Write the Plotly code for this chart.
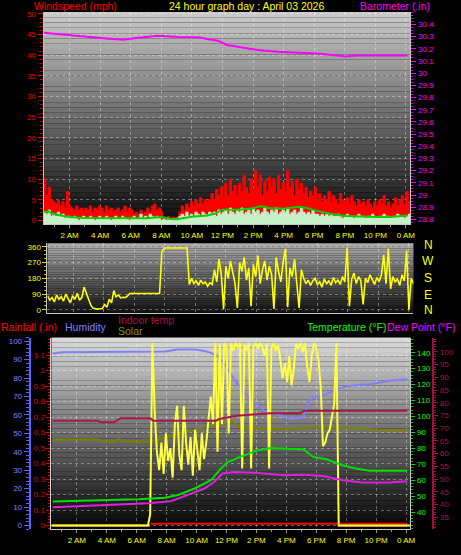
import plotly.graph_objects as go

W, H = 461, 555
def fx(p): return p / W
def fy(p): return 1 - p / H

FONT = "Liberation Sans, Arial, sans-serif"

# ---------------- data ----------------
XTICK_VALS = [2, 4, 6, 8, 10, 12, 14, 16, 18, 20, 22, 24]
XTICK_TEXT = ["2 AM", "4 AM", "6 AM", "8 AM", "10 AM", "12 PM", "2 PM", "4 PM",
              "6 PM", "8 PM", "10 PM", "0 AM"]

# sample times (hours after midnight) for the dense series
HOURS = [round(0.3 + 0.15 * i, 2) for i in range(161)]

GUST = [10, 6, 8, 5, 4.5,
        4, 5, 3.5, 4.5, 3, 7, 3.5,
        3, 2.5, 3.5, 2.5, 3, 2, 3,
        2.5, 3.5, 2, 3, 2.5, 3.5,
        3, 2, 3.5, 2.5, 3, 2, 2.5,
        3, 2, 2.5, 3.5, 2, 3, 2.5,
        1.5, 2, 1.5, 2.5, 1.5, 2,
        3, 2, 3.5, 4, 2.5, 3, 2,
        0.8, 0.5, 1, 0.5, 0.8, 0.5, 0.8,
        2, 3.5, 2.5, 4, 3, 4.5,
        3.5, 5, 4, 5.5, 4, 5, 4.5,
        5, 6.5, 5, 7.5, 6, 8, 5.5,
        9, 6, 10, 7, 8.5, 6,
        9, 7, 11, 8, 6.5, 10, 7,
        12, 8, 11, 6, 9.5, 7, 10.5,
        8, 10, 6.5, 11, 7.5, 9,
        7, 12, 8, 9.5, 6, 10, 7.5,
        9, 6.5, 8, 5.5, 7, 6, 8,
        5, 6.5, 4.5, 6, 5, 7,
        4.5, 6, 5, 4, 6.5, 5, 4.5,
        5.5, 4, 6, 4.5, 3.5, 5, 4,
        4.5, 3.5, 5, 4, 3, 4.5,
        3.5, 5, 4, 6, 3.5, 4.5, 3,
        4, 5.5, 3.5, 5, 6, 4, 7,
        4.5, 5]

WIND = [2, 1.5, 2.5, 1, 1.5, 1, 2, 1, 1.5, 0.5, 1, 1,
        0.5, 1, 0.5, 0, 0.5, 1, 0.5, 0.5, 1, 0.5,
        0, 0.5, 1, 0.5, 0.5, 1, 0.5, 0, 0.5, 1,
        0.5, 0.5, 1, 0.5, 0.5, 0, 0.5, 1, 0.5, 0.5,
        1.5, 0.5, 1, 0.5, 1.5, 1, 0.5, 1, 0.5, 0,
        0.3, 0, 0.5, 0.3, 0, 0.3, 0.5,
        1, 1.5, 1, 2, 1, 1.5, 1, 2, 1.5, 1,
        2, 1.5, 1, 2, 1.5, 2, 1, 2.5, 1.5, 2,
        2.5, 1.5, 3, 2, 1.5, 2.5, 2, 3, 1.5, 2,
        2.5, 1.5, 3, 2, 2.5, 1.5, 2, 3, 2, 1.5,
        2.5, 2, 3, 1.5, 2, 2.5, 2, 3, 1.5, 2,
        2.5, 1.5, 2, 3, 2, 1.5, 2, 1.5, 2.5, 1.5,
        1.5, 1, 1.5, 1, 1.5, 1, 1.5, 1, 1, 1.5,
        1, 0.5, 1, 1.5, 1, 1, 0.5, 1, 1.5, 1,
        1, 0.5, 1, 1, 1.5, 1, 0.5, 1, 1, 1.5,
        1, 1, 0.5, 1, 1, 1.5, 1, 1, 0.5, 1,
        1.5, 1]

AVG_H = [0.3, 0.6, 1.0, 1.5, 2.0, 3.0, 4.0, 5.0, 6.0, 7.0, 8.0, 8.5, 9.0, 9.5,
         10.0, 11.0, 11.5, 12.0, 13.0, 14.0, 14.5, 15.0, 16.0, 17.0, 17.5, 18.0,
         19.0, 20.0, 21.0, 22.0, 23.0, 24.0, 24.1]
AVG = [2.0, 2.2, 1.5, 1.2, 0.8, 0.6, 0.6, 0.5, 0.6, 0.5, 0.8, 0.4, 0.3, 0.6,
       0.9, 1.2, 1.6, 2.6, 2.6, 2.9, 3.5, 3.0, 2.8, 3.3, 3.0, 2.5,
       1.6, 1.1, 0.9, 0.8, 0.8, 1.0, 1.2]

BARO_H = [0.3, 1.0, 2.6, 4.6, 5.5, 6.5, 7.2, 7.8, 9.1, 10.4, 11.0, 11.7, 12.3,
          13.3, 14.3, 15.6, 16.9, 18.2, 19.5, 20.1, 20.7, 22.0, 23.3, 24.1]
BARO = [30.332, 30.322, 30.305, 30.283, 30.275, 30.291, 30.300, 30.308, 30.297,
        30.295, 30.281, 30.267, 30.232, 30.214, 30.191, 30.177, 30.169, 30.161,
        30.145, 30.137, 30.145, 30.145, 30.141, 30.145]

WIND_DIR = [80, 55, 70, 45, 85, 60, 75, 50, 90, 65, 40, 80, 60, 95, 55, 70,
            130, 95, 55, 25, 8, 5, 4, 6, 8,
            30, 15, 60, 40, 110, 75, 85, 68, 72, 70, 80,
            93, 93, 93, 93, 93, 93, 93, 93, 93, 93, 93, 93, 93, 93,
            330, 354, 354, 354, 354, 354, 354, 354, 354, 354, 354, 354,
            145,
            180, 150, 165, 140, 170, 150, 160, 135, 155, 145,
            230, 160, 290, 200, 5, 250, 180, 280, 210, 150,
            10, 270, 220, 300, 170, 240, 20, 260, 190, 310,
            150, 230, 280, 170, 250, 200, 5, 300, 220, 160,
            270, 350, 15, 240, 190, 290, 150, 10, 230, 180,
            150, 170, 140, 165, 180, 145, 160, 130, 175, 150,
            165, 140, 185, 155, 170, 145, 190, 160, 356, 20,
            175, 210, 150, 190, 165, 30, 180, 155, 200, 170,
            145, 185, 160, 200, 315, 150, 350, 120, 190, 160,
            175, 140, 200, 165, 340, 0, 180, 150]

SOLAR = ([0] * 44 +
         [6, 99, 62,
          40, 30, 45, 28, 50, 35, 42, 26, 55, 65, 38, 30, 65, 45, 33, 48, 27, 52,
          40, 30, 50, 36, 45,
          60, 70, 55, 99, 40, 99, 55, 99, 97, 50, 99, 95, 99, 97, 99, 31, 98, 95,
          99, 31, 97, 99, 96, 99, 97, 92, 99, 31, 96, 99, 95, 98, 90, 80, 88, 78,
          92, 76, 85, 99, 96, 99, 94, 99, 86, 78, 92, 99, 96, 90, 75, 43, 45, 50,
          52, 60, 66, 99] +
         [0] * 33)

HUM_H = [0.39, 1.0, 7.88, 8.76, 9.87, 10.53, 10.97, 11.41, 11.85, 12.51, 13.17,
         13.83, 14.5, 15.37, 16.25, 17.14, 17.36, 17.8, 18.46, 19.34, 20.22,
         21.54, 22.87, 23.75, 24.08]
HUM = [93.4, 94.0, 94.4, 95.5, 95.5, 94.7, 93.7, 92.0, 88.0, 79.4, 72.3, 67.0,
       62.3, 60.5, 57.8, 58.7, 65.0, 69.6, 70.4, 74.0, 75.8, 76.7, 78.5, 79.4,
       79.4]

TEMP_H = [0.39, 3.91, 6.12, 7.88, 8.76, 9.87, 10.97, 11.52, 12.07, 13.17, 14.05,
          14.93, 15.82, 17.14, 17.8, 18.68, 19.78, 20.66, 21.54, 24.08]
TEMP = [46.7, 47.3, 48.1, 49.1, 50.8, 54.9, 60.1, 66.3, 71.5, 75.7, 78.8, 80.3,
        79.8, 79.4, 74.7, 73.2, 69.4, 67.4, 66.1, 66.1]

DEW_H = [0.39, 3.91, 6.78, 8.32, 9.42, 10.53, 11.19, 11.74, 12.51, 14.05, 15.82,
         17.14, 18.46, 19.78, 21.1, 22.87, 24.08]
DEW = [43.1, 44.5, 45.6, 47.0, 50.8, 54.9, 59.1, 64.3, 65.3, 64.7, 63.2, 63.6,
       62.8, 60.1, 58.7, 58.7, 59.5]

INDOOR_H = [0.39, 3.4, 3.6, 4.5, 4.9, 6.9, 7.1, 11.3, 11.5, 12.7, 14.9, 16.9,
            17.2, 24.08]
INDOOR = [72.9, 72.9, 72.3, 72.3, 73.9, 73.9, 72.9, 72.9, 73.6, 74.9, 75.9, 75.9,
          76.8, 76.8]

OLIVE_H = [0.39, 3.4, 3.6, 4.5, 4.8, 5.0, 6.9, 8.5, 10.0, 11.2, 12.0, 12.3, 12.6,
           13.0, 16.0, 18.0, 21.0, 22.5, 24.08]
OLIVE = [46.7, 46.7, 45.6, 45.6, 47.0, 45.6, 45.6, 49.0, 52.0, 55.1, 55.1, 56.9,
         55.0, 52.8, 52.3, 53.2, 52.8, 51.5, 51.5]

RAIN_H = [6.95, 24.08]
RAIN = [0.012, 0.012]
RATE_H = [0.3, 6.9, None, 19.45, 24.08]
RATE = [0, 0, None, 0, 0]

WIND_TICKS = list(range(0, 55, 5))
BARO_TICKS = [28.8, 28.9, 29.0, 29.1, 29.2, 29.3, 29.4, 29.5, 29.6, 29.7, 29.8,
              29.9, 30.0, 30.1, 30.2, 30.3, 30.4]
BARO_TEXT = ["28.8", "28.9", "29", "29.1", "29.2", "29.3", "29.4", "29.5", "29.6",
             "29.7", "29.8", "29.9", "30", "30.1", "30.2", "30.3", "30.4"]
RAIN_TICKS = [0, 0.1, 0.2, 0.3, 0.4, 0.5, 0.6, 0.7, 0.8, 0.9, 1.0, 1.1]
RAIN_TEXT = ["0", "0.1", "0.2", "0.3", "0.4", "0.5", "0.6", "0.7", "0.8", "0.9",
             "1", "1.1"]
TEMP_TICKS = [40, 50, 60, 70, 80, 90, 100, 110, 120, 130, 140]
IN_TICKS = [35, 40, 45, 50, 55, 60, 65, 70, 75, 80, 85, 90, 95, 100]
DIR_LABELS = ["N", "W", "S", "E", "N"]

WIND_RANGE = [-0.96, 50.48]

# ---------------- figure ----------------
fig = go.Figure()

def line(x, y, xa, ya, color, width=2, **kw):
    fig.add_trace(go.Scatter(x=x, y=y, xaxis=xa, yaxis=ya, mode="lines",
                             line=dict(color=color, width=width, shape=kw.pop("shape", "linear")),
                             hoverinfo="skip", connectgaps=False, **kw))

def floor_trace():
    # invisible baseline at the bottom of the wind axis, so the fills reach the frame
    fig.add_trace(go.Scatter(x=[HOURS[0], HOURS[-1]], y=[WIND_RANGE[0]] * 2,
                             xaxis="x", yaxis="y", mode="lines",
                             line=dict(width=0, color="rgba(0,0,0,0)"), hoverinfo="skip"))

# top panel
floor_trace()
line(HOURS, GUST, "x", "y", "#ff0000", 1, shape="hv", fill="tonexty", fillcolor="#ff0000")
floor_trace()
line(HOURS, WIND, "x", "y", "#c8f0c8", 1, shape="hv", fill="tonexty", fillcolor="#c8f0c8")
line(AVG_H, AVG, "x", "y", "#00d000", 2)
line(BARO_H, BARO, "x", "y2", "#ff00ff", 2)

# middle panel
line(HOURS, WIND_DIR, "x2", "y3", "#ffff00", 1.6)

# bottom panel
line(RATE_H, RATE, "x3", "y4", "#ff9900", 2)
line(RAIN_H, RAIN, "x3", "y4", "#ff0000", 2)
line(HUM_H, HUM, "x3", "y5", "#8080ff", 2)
line(OLIVE_H, OLIVE, "x3", "y5", "#808000", 2)
line(INDOOR_H, INDOOR, "x3", "y7", "#a81848", 2)
line(TEMP_H, TEMP, "x3", "y6", "#00e000", 2)
line(DEW_H, DEW, "x3", "y6", "#e020e0", 2)
line(HOURS, SOLAR, "x3", "y5", "#ffff40", 2)

# gradient backgrounds (style)
shapes = []
def gradient(x0, x1, y0, y1, ctop, cbot, n=40):
    for k in range(n):
        t = k / (n - 1)
        c = int(round(ctop + (cbot - ctop) * t))
        ya = y0 + (y1 - y0) * k / n
        yb = y0 + (y1 - y0) * (k + 1) / n
        shapes.append(dict(type="rect", xref="paper", yref="paper",
                           x0=fx(x0), x1=fx(x1), y0=fy(yb), y1=fy(ya),
                           fillcolor=f"rgb({c},{c},{c})", line=dict(width=0),
                           layer="below"))
gradient(44, 415, 10, 224, 200, 12)
gradient(48, 418, 243, 313, 172, 20)
gradient(52, 415, 338, 531, 216, 6)

GRID = "rgba(255,255,255,0.35)"
tf = lambda color: dict(family=FONT, size=8, color=color)

def xaxis(dom, anchor, labels=True):
    return dict(domain=[fx(dom[0]), fx(dom[1])], range=[0.3, 24.3], anchor=anchor,
                tickvals=XTICK_VALS, ticktext=XTICK_TEXT, showticklabels=labels,
                tickfont=tf("#ffff00"), ticks="outside" if labels else "",
                ticklen=3, tickcolor="#909090",
                minor=dict(tick0=0, dtick=1, ticks="outside" if labels else "",
                           ticklen=2, tickcolor="#909090"),
                showgrid=True, gridcolor=GRID, griddash="dot", gridwidth=1,
                showline=True, linecolor="#c8c8c8", linewidth=1, zeroline=False,
                fixedrange=True)

layout = dict(
    width=W, height=H, margin=dict(l=0, r=0, t=0, b=0),
    paper_bgcolor="black", plot_bgcolor="rgba(0,0,0,0)", showlegend=False,
    font=dict(family=FONT),
    xaxis=xaxis((44, 415), "y"),
    xaxis2=xaxis((48, 418), "y3", labels=False),
    xaxis3=xaxis((52, 415), "y4"),
    yaxis=dict(domain=[fy(224), fy(10)], range=WIND_RANGE, anchor="x", side="left",
               tickvals=WIND_TICKS, tickfont=tf("#e00000"), ticks="outside",
               ticklen=5, tickcolor="#e00000",
               minor=dict(dtick=1, ticks="outside", ticklen=3, tickcolor="#c00000"),
               showgrid=True, gridcolor=GRID, griddash="dot", zeroline=False,
               showline=True, linecolor="#c8c8c8", fixedrange=True),
    yaxis2=dict(range=[28.759, 30.503], overlaying="y", anchor="x", side="right",
                tickvals=BARO_TICKS, ticktext=BARO_TEXT, tickfont=tf("#ff00ff"),
                ticks="outside", ticklen=5, tickcolor="#ff00ff",
                minor=dict(dtick=0.025, tick0=28.8, ticks="outside", ticklen=2,
                           tickcolor="#d000d0"),
                showgrid=False, zeroline=False, showline=True, linecolor="#c8c8c8",
                fixedrange=True),
    yaxis3=dict(domain=[fy(313), fy(243)], range=[-17, 381], anchor="x2", side="left",
                tick0=0, dtick=90, tickfont=tf("#ffff00"), ticks="outside", ticklen=4,
                tickcolor="#e0e000",
                minor=dict(dtick=22.5, ticks="outside", ticklen=2, tickcolor="#c0c000"),
                showgrid=True, gridcolor=GRID, griddash="dot", zeroline=False,
                showline=True, linecolor="#c8c8c8", fixedrange=True),
    yaxis4=dict(domain=[fy(531), fy(338)], range=[-0.0237, 1.2135], anchor="x3",
                side="left", tickvals=RAIN_TICKS, ticktext=RAIN_TEXT,
                tickfont=tf("#e00000"), ticks="outside", ticklen=4, tickcolor="#e00000",
                minor=dict(dtick=0.02, ticks="outside", ticklen=2, tickcolor="#e00000"),
                showgrid=True, gridcolor=GRID, griddash="dot", zeroline=False,
                showline=True, linecolor="#d8d8d8", fixedrange=True),
    yaxis5=dict(range=[-2, 102], overlaying="y4", anchor="free", position=fx(30),
                side="left", tick0=0, dtick=10, tickfont=tf("#8080ff"), ticks="outside",
                ticklen=5, tickcolor="#6060ff",
                minor=dict(dtick=2, ticks="outside", ticklen=3, tickcolor="#6060ff"),
                showgrid=False, zeroline=False, showline=True, linecolor="#6060ff",
                linewidth=2, fixedrange=True),
    yaxis6=dict(range=[29.42, 149.5], overlaying="y4", anchor="x3", side="right",
                tickvals=TEMP_TICKS, tickfont=tf("#00ff00"), ticks="outside", ticklen=4,
                tickcolor="#00e000",
                minor=dict(dtick=2, ticks="outside", ticklen=2, tickcolor="#00c000"),
                showgrid=False, zeroline=False, showline=True, linecolor="#c8c8c8",
                fixedrange=True),
    yaxis7=dict(range=[30.33, 105.6], overlaying="y4", anchor="free", position=fx(438),
                side="right", tickvals=IN_TICKS, tickfont=tf("#b01048"), ticks="outside",
                ticklen=4, tickcolor="#a01040",
                minor=dict(dtick=1, ticks="outside", ticklen=2, tickcolor="#a01040"),
                showgrid=False, zeroline=False, showline=True, linecolor="#a01040",
                linewidth=2, fixedrange=True),
    shapes=shapes,
)
fig.update_layout(**layout)

def label(text, x, y, color, anchor="left", size=10.5):
    fig.add_annotation(text=text, xref="paper", yref="paper", x=fx(x), y=fy(y),
                       xanchor=anchor, yanchor="middle", showarrow=False,
                       font=dict(family=FONT, size=size, color=color), borderpad=0)

label("Windspeed (mph)", 33, 4, "#ff0000")
label("24 hour graph day : April 03 2026", 249, 4, "#ffff00", anchor="center")
label("Barometer (.in)", 436, 4, "#ff00ff", anchor="right")
label("Rainfall (.in)", 0, 327.7, "#ff0000")
label("Humidity", 65, 327.7, "#8080ff")
label("Indoor temp", 118, 320, "#b01048")
label("Solar", 118, 331.7, "#909000")
label("Temperature (°F)", 309, 327.7, "#00ff00")
label("Dew Point (°F)", 390, 327.7, "#ff00ff")
for txt, yy in zip(DIR_LABELS, [245, 261, 278, 295, 310]):
    label(txt, 433, yy, "#ffff00", anchor="center", size=12)

fig.write_html(
    "out.html",
    config={"displayModeBar": False, "staticPlot": True},
    post_script="document.body.style.margin='0';document.body.style.overflow='hidden';",
)
